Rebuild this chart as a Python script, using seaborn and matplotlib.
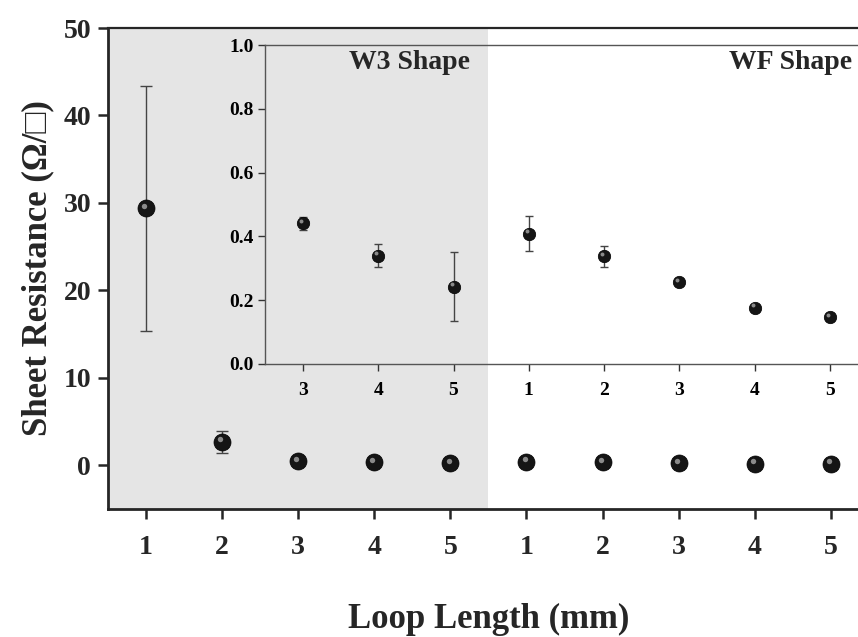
import numpy as np
import pandas as pd
import matplotlib
matplotlib.use("Agg")
import matplotlib.pyplot as plt
import matplotlib.transforms as mtransforms
import seaborn as sns

# data (W3 loops 1-5 then WF loops 1-5)
shapes = ["W3"] * 5 + ["WF"] * 5
loop_labels = ["1", "2", "3", "4", "5", "1", "2", "3", "4", "5"]
resistance = [29.4, 2.67, 0.441, 0.340, 0.242, 0.408, 0.338, 0.256, 0.176, 0.146]
res_err = [14.0, 1.25, 0.020, 0.037, 0.108, 0.055, 0.033, 0.005, 0.010, 0.008]

df = pd.DataFrame({"shape": shapes, "loop": loop_labels,
                   "pos": np.arange(1, 11), "R": resistance, "err": res_err})
inset_df = df[df["pos"] >= 3]

sns.set_style("ticks")
plt.rcParams["font.family"] = ["Liberation Serif", "DejaVu Sans"]
plt.rcParams["font.weight"] = "bold"

fig = plt.figure(figsize=(8.58, 6.37), dpi=100)
ax = fig.add_axes([107.9 / 858, 128 / 637, 761 / 858, 481 / 637])

# gray band behind the W3 group
ax.axvspan(0.5, 5.5, color="#e5e5e5", lw=0, zorder=0)


def draw_points(a, d, size, cap):
    a.errorbar(d["pos"], d["R"], yerr=d["err"], fmt="none", ecolor="#444444",
               elinewidth=1.0, capsize=cap, capthick=1.0, zorder=2)
    sns.scatterplot(data=d, x="pos", y="R", ax=a, s=size, color="#151515",
                    edgecolor="#000000", linewidth=0.5, zorder=3, legend=False)
    # small highlight to mimic the shaded spheres
    off = mtransforms.offset_copy(a.transData, fig=fig, x=-1.3, y=1.8, units="points")
    a.scatter(d["pos"], d["R"], s=size * 0.1, color="#8a8a8a", lw=0,
              transform=off, zorder=4)


draw_points(ax, df, 150, 4)
ax.set_xlim(0.5, 10.5)
ax.set_ylim(-5, 50)
ax.set_xticks(df["pos"])
ax.set_xticklabels(df["loop"])
ax.set_yticks([0, 10, 20, 30, 40, 50])
ax.tick_params(labelsize=20, width=1.8, length=7, direction="out")
ax.tick_params(axis="x", pad=12)
ax.tick_params(axis="y", pad=5)
for lab in ax.get_xticklabels() + ax.get_yticklabels():
    lab.set_fontweight("bold")
ax.set_xlabel("Loop Length (mm)", fontsize=25, fontweight="bold", labelpad=31)
ax.set_ylabel("Sheet Resistance (Ω/□)", fontsize=25, fontweight="bold", labelpad=7)
for side in ["left", "bottom"]:
    ax.spines[side].set_linewidth(2.0)
ax.spines["top"].set_linewidth(1.6)
ax.spines["right"].set_visible(False)

# inset zoom on the small values
ins = fig.add_axes([265.4 / 858, 273 / 637, 602 / 858, 319 / 637])
ins.patch.set_alpha(0)
draw_points(ins, inset_df, 80, 3)
ins.set_xlim(2.5, 10.5)
ins.set_ylim(0, 1.0)
ins.set_xticks(inset_df["pos"])
ins.set_xticklabels(inset_df["loop"])
ins.set_yticks([0.0, 0.2, 0.4, 0.6, 0.8, 1.0])
ins.set_yticklabels(["0.0", "0.2", "0.4", "0.6", "0.8", "1.0"])
ins.set_xlabel("")
ins.set_ylabel("")
ins.tick_params(labelsize=14, width=1.0, length=5, direction="out", colors="#333333",
                labelcolor="black")
ins.tick_params(axis="x", pad=8)
for lab in ins.get_xticklabels() + ins.get_yticklabels():
    lab.set_fontweight("bold")
for side in ["left", "bottom", "top"]:
    ins.spines[side].set_linewidth(1.0)
    ins.spines[side].set_color("#555555")
ins.spines["right"].set_visible(False)

ins.text(5.22, 0.945, "W3 Shape", ha="right", va="center", fontsize=20, fontweight="bold")
ins.text(10.3, 0.945, "WF Shape", ha="right", va="center", fontsize=20, fontweight="bold")

fig.savefig("out.png", dpi=100)
